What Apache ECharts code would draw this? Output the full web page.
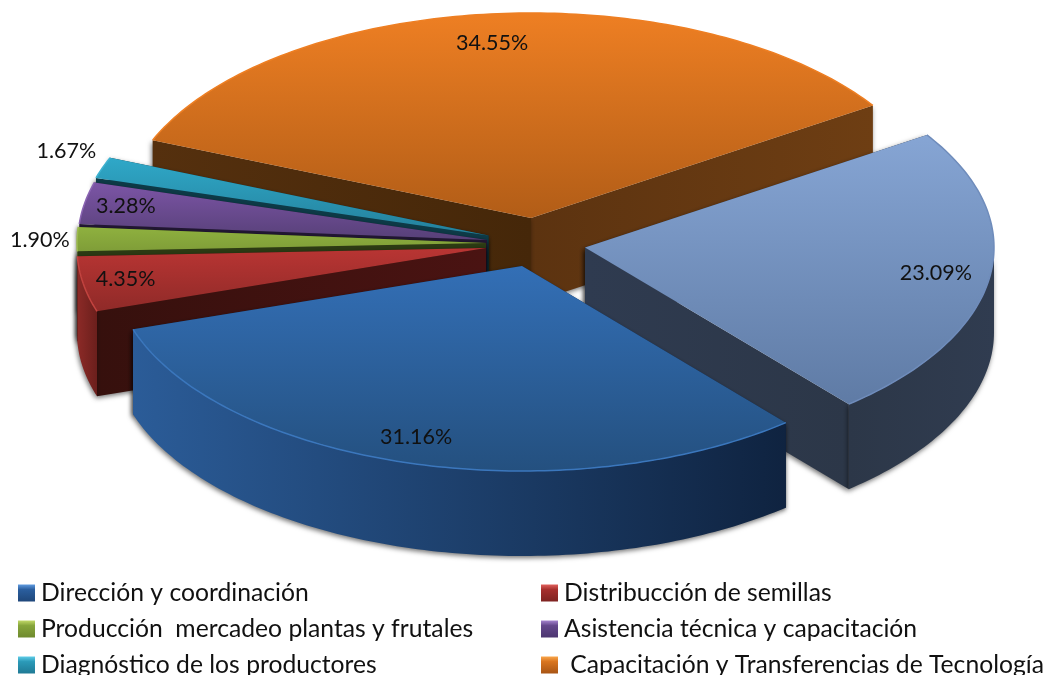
<!DOCTYPE html>
<html>
<head>
    <meta charset="utf-8">
    <title>ECharts</title>
    <script src="https://cdn.jsdelivr.net/npm/echarts@6/dist/echarts.min.js"></script>
    <style>
        html, body { width: 100%; height: 100%; margin: 0; background: #fff; }
        #main { width: 1050px; height: 675px; }
    </style>
</head>
<body>
    <div id="main"></div>
    <script type="text/javascript">
        // data, clockwise from the light blue slice
        var categories = ['Otros', 'Dirección y coordinación', 'Distribucción de semillas',
            'Producción  mercadeo plantas y frutales', 'Asistencia técnica y capacitación',
            'Diagnóstico de los productores', ' Capacitación y Transferencias de Tecnología'];
        var values = [23.09, 31.16, 4.35, 1.90, 3.28, 1.67, 34.55];

        // styles, same order as categories
        var topColors = [['#86a5d4', '#5f7ba5'], ['#336fb6', '#24507f'], ['#b93533', '#8f2a28'],
            ['#8fb13f', '#7f9d38'], ['#7c55a6', '#574078'], ['#2fa8c8', '#24809b'], ['#ee7f23', '#b25d17']];
        var wallColors = [['#2c3748', '#303c50'], ['#2b5c98', '#0f2340'], ['#8c2a27', '#6b1f1c'],
            ['#5f7a2a', '#5f7a2a'], ['#46305f', '#46305f'], ['#1c6a80', '#1c6a80'], ['#6b3c12', '#6b3c12']];
        var cutColors = [['#2f3b50', '#2c3748'], ['#0f2340', '#0f2340'], ['#36100d', '#4a1312'],
            ['#2c3a13', '#2c3a13'], ['#221733', '#221733'], ['#0d3a47', '#0d3a47'], ['#55300e', '#452709']];
        var cutEndColors = [['#2f3b50', '#2c3748'], ['#0f2340', '#0f2340'], ['#36100d', '#36100d'],
            ['#2c3a13', '#2c3a13'], ['#221733', '#221733'], ['#0d3a47', '#0d3a47'], ['#5c3310', '#6e3e13']];
        var rimColors = ['#6f8cbb', '#3b77bd', '#c2433f', '#9dbb4e', '#8a64b2', '#3fb2d0', '#ee7f23'];
        var legendTop = ['#9db8e0', '#5f9be0', '#e0605c', '#c2d968', '#a583cf', '#5fcde8', '#f9a64a'];
        var legendBottom = ['#5f7ba5', '#1f477a', '#7e2321', '#6f8a2e', '#4c3670', '#1f7a95', '#a85515'];
        var legendMid = ['#7e9bc9', '#2a5e9e', '#a62f2d', '#86a53b', '#64478c', '#2b9ab8', '#d9751f'];

        // layout
        var firstAngle = 56.7, rx = 409, ry = 205;
        var apex = [[585, 247.5], [522, 266], [486, 248], [486, 243], [487, 240], [488.5, 235.5], [531, 218]];
        var depth = 85;
        var labelPos = [[0.858, 0.125], [-0.259, 0.834], [-0.881, 0.151], [-1.091, -0.015],
            [-0.883, -0.166], [-1.032, -0.41], [-0.095, -0.854]];
        var drawOrder = [6, 5, 4, 3, 2, 0, 1];

        var total = values.reduce(function (a, b) { return a + b; }, 0);
        var startAngles = [];
        values.reduce(function (a, v, i) {
            startAngles[i] = a;
            return a + v / total * 360;
        }, firstAngle);

        function pt(c, deg, dy) {
            var r = deg * Math.PI / 180;
            return [c[0] + rx * Math.sin(r), c[1] - ry * Math.cos(r) + (dy || 0)];
        }
        function arc(c, from, to, dy) {
            var pts = [];
            for (var a = from; a < to; a += 1) pts.push(pt(c, a, dy));
            pts.push(pt(c, to, dy));
            return pts;
        }
        function grad(pair, vertical) {
            return {
                type: 'linear', x: 0, y: 0, x2: vertical ? 0 : 1, y2: vertical ? 1 : 0,
                colorStops: [{ offset: 0, color: pair[0] }, { offset: 1, color: pair[1] }]
            };
        }
        function quad(c, deg, d) {
            var p = pt(c, deg);
            return [[c[0], c[1]], p, [p[0], p[1] + d], [c[0], c[1] + d]];
        }

        function sliceRenderer(i) {
            return function (params, api) {
                var c = apex[i], d = depth;
                var from = startAngles[i];
                var to = from + api.value(0) / total * 360;
                var children = [];
                var shadow = { shadowBlur: 5, shadowColor: 'rgba(0,0,0,0.55)', shadowOffsetY: 2, shadowOffsetX: -1 };

                var startFace = {
                    type: 'polygon', shape: { points: quad(c, from, d) },
                    style: Object.assign({ fill: grad(cutColors[i]) }, shadow)
                };
                var endFace = {
                    type: 'polygon', shape: { points: quad(c, to, d) },
                    style: Object.assign({ fill: grad(cutEndColors[i]) }, shadow)
                };
                // the hidden cut face goes first
                if ((from + to) / 2 > 180 && (from + to) / 2 < 360) {
                    children.push(endFace, startFace);
                } else {
                    children.push(startFace, endFace);
                }
                // outer wall only where it faces the viewer
                var wallFrom = Math.max(from, 90), wallTo = Math.min(to, 270);
                if (wallTo > wallFrom) {
                    var upper = arc(c, wallFrom, wallTo);
                    var lower = arc(c, wallFrom, wallTo, d).reverse();
                    children.push({
                        type: 'polygon', shape: { points: upper.concat(lower) },
                        style: Object.assign({ fill: grad(wallColors[i]) }, shadow)
                    });
                }
                children.push({
                    type: 'polygon',
                    shape: { points: [[c[0], c[1]]].concat(arc(c, from, to)) },
                    style: { fill: grad(topColors[i], true) }
                });
                children.push({
                    type: 'polyline', shape: { points: arc(c, from, to) },
                    style: { fill: null, stroke: rimColors[i], lineWidth: 1.5 }
                });
                children.push({
                    type: 'text', z2: 100,
                    style: {
                        x: c[0] + labelPos[i][0] * rx, y: c[1] + labelPos[i][1] * ry,
                        text: api.value(0).toFixed(2) + '%',
                        align: 'center', verticalAlign: 'middle',
                        font: '21.5px Lato', fill: '#111'
                    }
                });
                return { type: 'group', children: children };
            };
        }

        function legendData(list) {
            return list.map(function (i) {
                return {
                    name: categories[i],
                    itemStyle: {
                        borderWidth: 0,
                        color: {
                            type: 'linear', x: 0, y: 0, x2: 0, y2: 1,
                            colorStops: [
                                { offset: 0, color: legendTop[i] },
                                { offset: 0.3, color: legendMid[i] },
                                { offset: 1, color: legendBottom[i] }
                            ]
                        }
                    }
                };
            });
        }
        function legendAt(left, list) {
            return {
                left: left, top: 580.5, height: 130, orient: 'vertical', icon: 'rect',
                itemWidth: 17, itemHeight: 17, itemGap: 11, padding: 0,
                selectedMode: false, data: legendData(list),
                textStyle: { fontFamily: 'Lato', fontSize: 24.7, color: '#111', padding: [0, 0, 0, 1] }
            };
        }

        var myChart = echarts.init(document.getElementById('main'));
        myChart.setOption({
            animation: false,
            legend: [legendAt(18, [1, 3, 5]), legendAt(541, [2, 4, 6])],
            series: drawOrder.map(function (i, n) {
                return {
                    type: 'custom', name: categories[i], coordinateSystem: 'none', z: n + 2,
                    silent: true, itemStyle: { color: legendMid[i] },
                    renderItem: sliceRenderer(i),
                    data: [[values[i]]]
                };
            })
        });
    </script>
</body>
</html>
